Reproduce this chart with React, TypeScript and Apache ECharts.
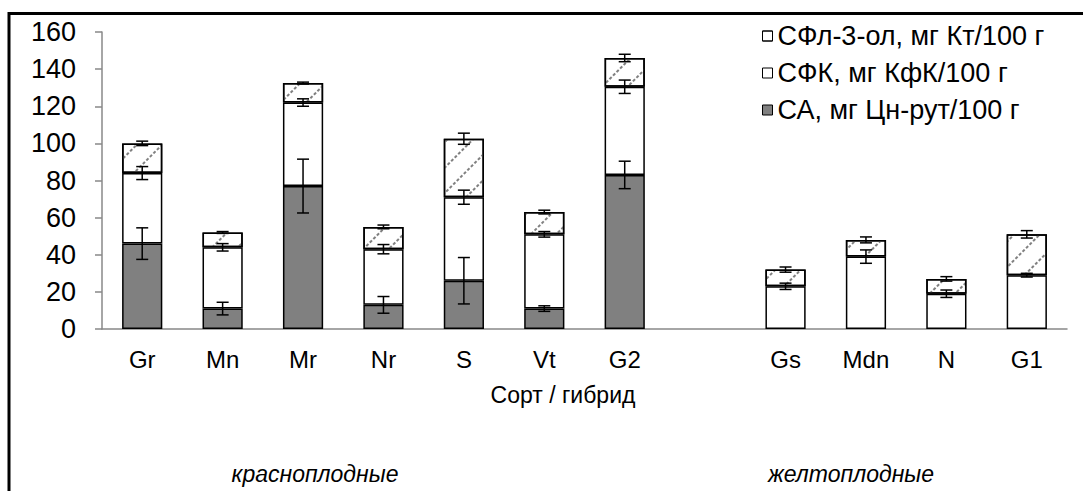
import React, { useEffect, useRef } from "react";
import * as echarts from "echarts";

const categories = ["Gr", "Mn", "Mr", "Nr", "S", "Vt", "G2", "", "Gs", "Mdn", "N", "G1"];
const seriesNames = ["СФл-3-ол, мг Кт/100 г", "СФК, мг КфК/100 г", "СА, мг Цн-рут/100 г"];

// segment values (stacked)
const caValues = [46, 11, 77, 13, 26, 11, 83, null, null, null, null, null];
const sfkValues = [38, 33, 45, 30, 45, 40, 47.5, null, 23, 39, 19, 29];
const flavValues = [16, 8, 10.5, 12, 31.5, 12, 15.5, null, 9, 9, 8, 22];

// error half-widths
const caErr = [8.5, 3.4, 14.5, 4.5, 12.5, 1.5, 7.4, null, null, null, null, null];
const sfkErr = [3.5, 2, 2, 2.5, 3.8, 1.5, 3.6, null, 1.7, 3.6, 2, 1];
const flavErr = [1.2, 0.5, 0.5, 1, 3, 1, 2, null, 1.4, 1.6, 1.2, 2];

const yTicks = { min: 0, max: 160, interval: 20 };
const groupLabels = ["красноплодные", "желтоплодные"];
const axisTitle = "Сорт / гибрид";

const FONT = "'Liberation Sans', Arial, sans-serif";

export default function App() {
  const ref = useRef<HTMLDivElement>(null);
  useEffect(() => {
    document.body.style.margin = "0";
    const chart = echarts.init(ref.current!, undefined, { renderer: "svg" });

    const errData: number[][] = [];
    categories.forEach((_, i) => {
      let cum = 0;
      const segs = [caValues[i], sfkValues[i], flavValues[i]];
      const errs = [caErr[i], sfkErr[i], flavErr[i]];
      segs.forEach((v, k) => {
        if (v == null) return;
        cum += v;
        const e = errs[k];
        if (e != null) errData.push([i, cum, e]);
      });
    });

    const border = { borderColor: "#000", borderWidth: 1.5 };

    chart.setOption({
      animation: false,
      textStyle: { fontFamily: FONT },
      grid: { left: 102, right: 16, top: 32, bottom: 162, containLabel: false },
      legend: {
        data: seriesNames,
        orient: "vertical",
        left: 757,
        top: 17,
        itemWidth: 10,
        itemHeight: 10,
        itemGap: 9,
        icon: "rect",
        textStyle: { fontSize: 27, color: "#000", fontFamily: FONT, lineHeight: 28 },
        itemStyle: { borderWidth: 1, borderColor: "#000" },
        selectedMode: false,
      },
      xAxis: {
        type: "category",
        data: categories,
        axisLine: { lineStyle: { color: "#888", width: 1.5 } },
        axisTick: { lineStyle: { color: "#888", width: 1.5 }, length: 6 },
        axisLabel: { color: "#000", fontSize: 24, margin: 18, fontFamily: FONT, interval: 0 },
      },
      yAxis: {
        type: "value",
        min: yTicks.min,
        max: yTicks.max,
        interval: yTicks.interval,
        splitLine: { show: false },
        axisLine: { show: true, lineStyle: { color: "#888", width: 1.5 } },
        axisTick: { show: true, lineStyle: { color: "#888", width: 1.5 }, length: 7 },
        axisLabel: { color: "#000", fontSize: 27, margin: 26, fontFamily: FONT },
      },
      series: [
        {
          name: seriesNames[2],
          type: "bar",
          stack: "t",
          barWidth: "50%",
          data: caValues,
          itemStyle: { color: "#808080", ...border },
        },
        {
          name: seriesNames[1],
          type: "bar",
          stack: "t",
          barWidth: "50%",
          data: sfkValues,
          itemStyle: { color: "#fff", ...border },
        },
        {
          name: seriesNames[0],
          type: "bar",
          stack: "t",
          barWidth: "50%",
          data: flavValues,
          itemStyle: {
            color: "#fff",
            ...border,
            decal: {
              symbol: "rect",
              symbolSize: 1,
              dashArrayX: [3, 1.5],
              dashArrayY: [1.5, 16],
              rotation: -Math.PI / 4,
              color: "#808080",
            },
          },
        },
        {
          type: "custom",
          z: 10,
          data: errData,
          encode: { x: 0, y: 1 },
          renderItem: (params: any, api: any) => {
            const x = api.value(0);
            const c = api.value(1);
            const e = api.value(2);
            const t = api.coord([x, c + e]);
            const b = api.coord([x, c - e]);
            const hw = 6;
            const st = { stroke: "#000", lineWidth: 1.5 };
            return {
              type: "group",
              children: [
                { type: "line", shape: { x1: t[0], y1: t[1], x2: b[0], y2: b[1] }, style: st },
                { type: "line", shape: { x1: t[0] - hw, y1: t[1], x2: t[0] + hw, y2: t[1] }, style: st },
                { type: "line", shape: { x1: b[0] - hw, y1: b[1], x2: b[0] + hw, y2: b[1] }, style: st },
              ],
            };
          },
        },
      ],
      graphic: [
        {
          type: "rect",
          silent: true,
          shape: { x: 9, y: 13.5, width: 1200, height: 700 },
          style: { fill: "none", stroke: "#000", lineWidth: 3 },
        },
        {
          type: "text",
          x: 563,
          y: 395,
          style: { text: axisTitle, fontSize: 23, fontFamily: FONT, fill: "#000", textAlign: "center", textVerticalAlign: "middle" },
        },
        {
          type: "text",
          x: 315,
          y: 474,
          style: { text: groupLabels[0], fontSize: 23, fontStyle: "italic", fontFamily: FONT, fill: "#000", textAlign: "center", textVerticalAlign: "middle" },
        },
        {
          type: "text",
          x: 851,
          y: 474,
          style: { text: groupLabels[1], fontSize: 23, fontStyle: "italic", fontFamily: FONT, fill: "#000", textAlign: "center", textVerticalAlign: "middle" },
        },
      ],
    });
    return () => chart.dispose();
  }, []);
  return <div ref={ref} style={{ width: 1083, height: 491 }} />;
}
